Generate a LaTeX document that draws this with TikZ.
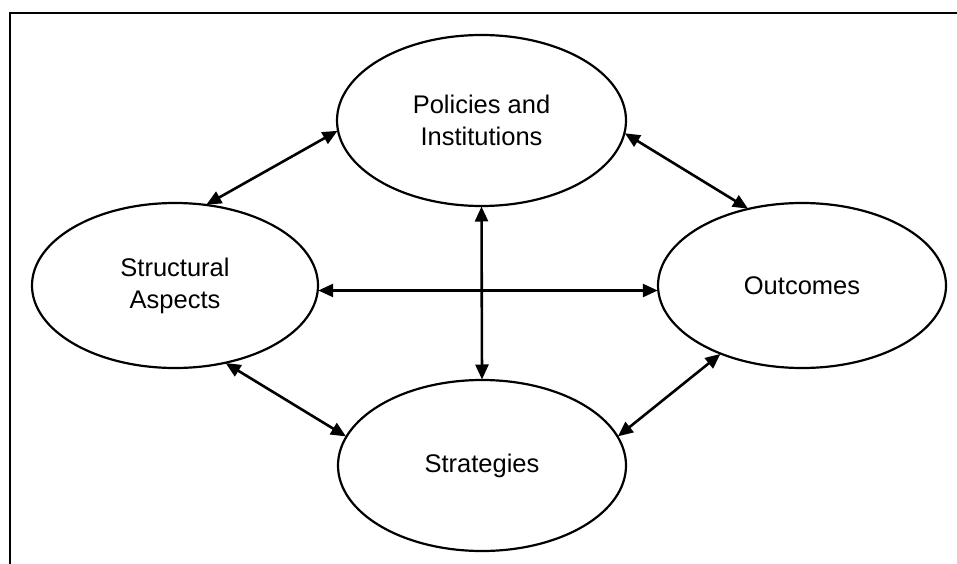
\documentclass[tikz,border=0pt]{standalone}
\usepackage{fontspec}
\setmainfont{Liberation Sans}
\usetikzlibrary{shapes.geometric,arrows.meta}
\begin{document}
\begin{tikzpicture}[x=1pt,y=-1pt,
  oval/.style={draw,line width=2.2pt,ellipse,inner sep=0pt,outer sep=0pt,align=center,
    font=\fontsize{25.5}{32}\selectfont},
  link/.style={line width=2.6pt,{Triangle[length=15pt,width=13pt]}-{Triangle[length=15pt,width=13pt]},shorten <=0.5pt,shorten >=0.5pt}]
\useasboundingbox (0,0) rectangle (957,564);
\draw[line width=2pt] (10,564) -- (10,13) -- (957,13);
\node[oval,minimum width=289pt,minimum height=171pt] (pol) at (481.5,120.5) {Policies and\\Institutions};
\node[oval,minimum width=286pt,minimum height=165pt] (str) at (175,285.5) {Structural\\Aspects};
\node[oval,minimum width=288pt,minimum height=165pt] (out) at (802,285.5) {Outcomes};
\node[oval,minimum width=288pt,minimum height=171pt] (stg) at (482,465.5) {Strategies};
\draw[link] (str.69) -- (pol.184);
\draw[link] (pol.-5) -- (out.125);
\draw[link] (str.-2) -- (out.182);
\draw[link] (pol.south) -- (stg.north);
\draw[link] (str.-57) -- (stg.168);
\draw[link] (out.220) -- (stg.12);
\end{tikzpicture}
\end{document}
